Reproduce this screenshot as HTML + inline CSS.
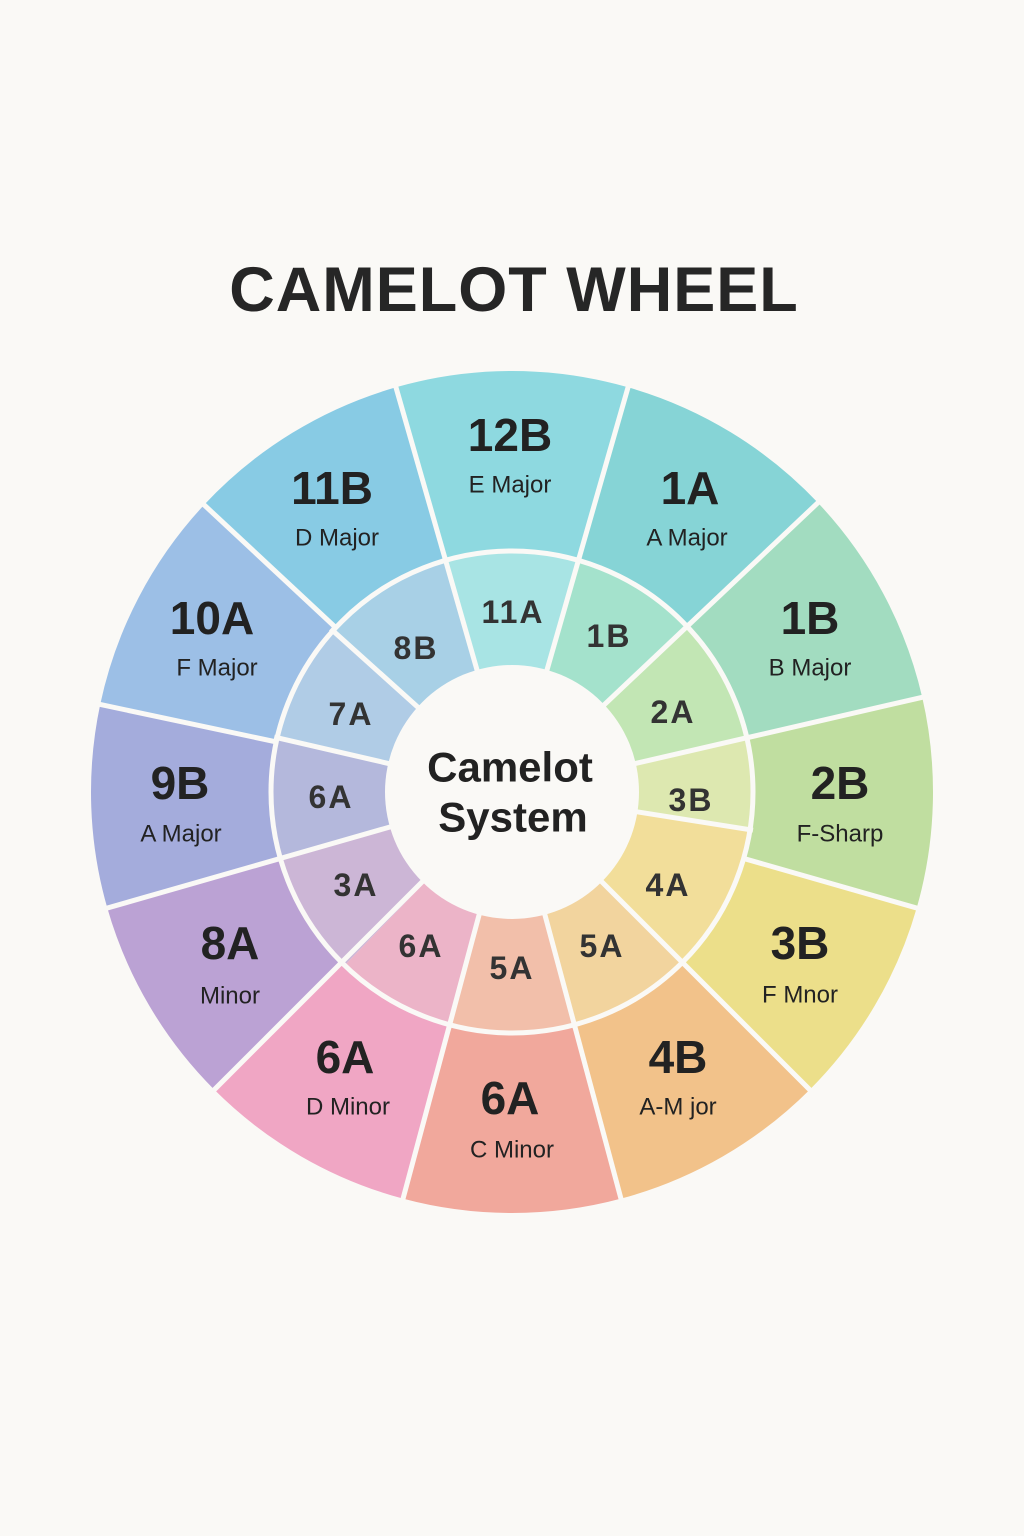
<!DOCTYPE html>
<html><head><meta charset="utf-8"><style>
html,body{margin:0;padding:0;background:#faf9f6;}
svg{display:block;}
text{font-family:"Liberation Sans",sans-serif;fill:#222;text-anchor:middle;dominant-baseline:central;}
.big{font-size:46px;font-weight:bold;}
.sub{font-size:24px;}
.in{font-size:32px;font-weight:bold;fill:#333;letter-spacing:2px;}
</style></head><body>
<svg width="1024" height="1536" viewBox="0 0 1024 1536">
<rect width="1024" height="1536" fill="#faf9f6"/>
<text x="514" y="290" style="font-size:63px;font-weight:bold;fill:#262626;letter-spacing:1px">CAMELOT WHEEL</text>
<g fill="none">
<circle cx="512" cy="792" r="331.5" stroke-width="179" stroke="#8ed9e0" stroke-dasharray="185.1 2000" transform="rotate(-106 512 792)"/>
<circle cx="512" cy="792" r="331.5" stroke-width="179" stroke="#86d4d6" stroke-dasharray="177.1 2000" transform="rotate(-74 512 792)"/>
<circle cx="512" cy="792" r="331.5" stroke-width="179" stroke="#a2dcc0" stroke-dasharray="175.9 2000" transform="rotate(-43.4 512 792)"/>
<circle cx="512" cy="792" r="331.5" stroke-width="179" stroke="#c0dea0" stroke-dasharray="167.8 2000" transform="rotate(-13 512 792)"/>
<circle cx="512" cy="792" r="331.5" stroke-width="179" stroke="#ecdf8a" stroke-dasharray="167.8 2000" transform="rotate(16 512 792)"/>
<circle cx="512" cy="792" r="331.5" stroke-width="179" stroke="#f2c28a" stroke-dasharray="173.6 2000" transform="rotate(45 512 792)"/>
<circle cx="512" cy="792" r="331.5" stroke-width="179" stroke="#f1a89c" stroke-dasharray="173.6 2000" transform="rotate(75 512 792)"/>
<circle cx="512" cy="792" r="331.5" stroke-width="179" stroke="#f0a6c4" stroke-dasharray="173.6 2000" transform="rotate(105 512 792)"/>
<circle cx="512" cy="792" r="331.5" stroke-width="179" stroke="#bba2d4" stroke-dasharray="167.8 2000" transform="rotate(135 512 792)"/>
<circle cx="512" cy="792" r="331.5" stroke-width="179" stroke="#a4acdc" stroke-dasharray="162 2000" transform="rotate(164 512 792)"/>
<circle cx="512" cy="792" r="331.5" stroke-width="179" stroke="#9cbfe6" stroke-dasharray="179.4 2000" transform="rotate(192 512 792)"/>
<circle cx="512" cy="792" r="331.5" stroke-width="179" stroke="#88cbe4" stroke-dasharray="179.4 2000" transform="rotate(223 512 792)"/>
</g>
<g stroke="#faf9f6" stroke-width="5">
<line x1="512" y1="792" x2="512" y2="362" transform="rotate(16 512 792)"/>
<line x1="512" y1="792" x2="512" y2="362" transform="rotate(46.6 512 792)"/>
<line x1="512" y1="792" x2="512" y2="362" transform="rotate(77 512 792)"/>
<line x1="512" y1="792" x2="512" y2="362" transform="rotate(106 512 792)"/>
<line x1="512" y1="792" x2="512" y2="362" transform="rotate(135 512 792)"/>
<line x1="512" y1="792" x2="512" y2="362" transform="rotate(165 512 792)"/>
<line x1="512" y1="792" x2="512" y2="362" transform="rotate(195 512 792)"/>
<line x1="512" y1="792" x2="512" y2="362" transform="rotate(225 512 792)"/>
<line x1="512" y1="792" x2="512" y2="362" transform="rotate(254 512 792)"/>
<line x1="512" y1="792" x2="512" y2="362" transform="rotate(282 512 792)"/>
<line x1="512" y1="792" x2="512" y2="362" transform="rotate(313 512 792)"/>
<line x1="512" y1="792" x2="512" y2="362" transform="rotate(344 512 792)"/>
</g>
<g fill="none">
<circle cx="512" cy="792" r="183" stroke-width="114" stroke="#a8e4e4" stroke-dasharray="102.2 1200" transform="rotate(-106 512 792)"/>
<circle cx="512" cy="792" r="183" stroke-width="114" stroke="#a4e2cc" stroke-dasharray="99 1200" transform="rotate(-74 512 792)"/>
<circle cx="512" cy="792" r="183" stroke-width="114" stroke="#c2e6b4" stroke-dasharray="95.8 1200" transform="rotate(-43 512 792)"/>
<circle cx="512" cy="792" r="183" stroke-width="114" stroke="#dde8b0" stroke-dasharray="70.3 1200" transform="rotate(-13 512 792)"/>
<circle cx="512" cy="792" r="183" stroke-width="114" stroke="#f2de9a" stroke-dasharray="115 1200" transform="rotate(9 512 792)"/>
<circle cx="512" cy="792" r="183" stroke-width="114" stroke="#f2d49e" stroke-dasharray="95.8 1200" transform="rotate(45 512 792)"/>
<circle cx="512" cy="792" r="183" stroke-width="114" stroke="#f2bfaa" stroke-dasharray="95.8 1200" transform="rotate(75 512 792)"/>
<circle cx="512" cy="792" r="183" stroke-width="114" stroke="#ecb4c8" stroke-dasharray="92.6 1200" transform="rotate(105 512 792)"/>
<circle cx="512" cy="792" r="183" stroke-width="114" stroke="#ccb6d6" stroke-dasharray="95.8 1200" transform="rotate(134 512 792)"/>
<circle cx="512" cy="792" r="183" stroke-width="114" stroke="#b4b8dc" stroke-dasharray="92.6 1200" transform="rotate(164 512 792)"/>
<circle cx="512" cy="792" r="183" stroke-width="114" stroke="#b0cce6" stroke-dasharray="92.6 1200" transform="rotate(193 512 792)"/>
<circle cx="512" cy="792" r="183" stroke-width="114" stroke="#a8d0e6" stroke-dasharray="102.2 1200" transform="rotate(222 512 792)"/>
</g>
<g stroke="#faf9f6" stroke-width="5">
<line x1="512" y1="792" x2="512" y2="548" transform="rotate(16 512 792)"/>
<line x1="512" y1="792" x2="512" y2="548" transform="rotate(46.6 512 792)"/>
<line x1="512" y1="792" x2="512" y2="548" transform="rotate(77 512 792)"/>
<line x1="512" y1="792" x2="512" y2="548" transform="rotate(99 512 792)"/>
<line x1="512" y1="792" x2="512" y2="548" transform="rotate(135 512 792)"/>
<line x1="512" y1="792" x2="512" y2="548" transform="rotate(165 512 792)"/>
<line x1="512" y1="792" x2="512" y2="548" transform="rotate(195 512 792)"/>
<line x1="512" y1="792" x2="512" y2="548" transform="rotate(225 512 792)"/>
<line x1="512" y1="792" x2="512" y2="548" transform="rotate(254 512 792)"/>
<line x1="512" y1="792" x2="512" y2="548" transform="rotate(283 512 792)"/>
<line x1="512" y1="792" x2="512" y2="548" transform="rotate(312 512 792)"/>
<line x1="512" y1="792" x2="512" y2="548" transform="rotate(344 512 792)"/>
</g>
<circle cx="512" cy="792" r="241" fill="none" stroke="#faf9f6" stroke-width="5"/>
<circle cx="512" cy="792" r="127" fill="#faf9f6"/>
<text x="510" y="767" style="font-size:42px;font-weight:bold">Camelot</text>
<text x="513" y="817" style="font-size:42px;font-weight:bold">System</text>
<text class="big" x="510" y="435">12B</text><text class="sub" x="510" y="485">E Major</text>
<text class="big" x="690" y="488">1A</text><text class="sub" x="687" y="538">A Major</text>
<text class="big" x="810" y="618">1B</text><text class="sub" x="810" y="668">B Major</text>
<text class="big" x="840" y="783">2B</text><text class="sub" x="840" y="834">F-Sharp</text>
<text class="big" x="800" y="943">3B</text><text class="sub" x="800" y="995">F Mnor</text>
<text class="big" x="678" y="1057">4B</text><text class="sub" x="678" y="1107">A-M jor</text>
<text class="big" x="510" y="1098">6A</text><text class="sub" x="512" y="1150">C Minor</text>
<text class="big" x="345" y="1057">6A</text><text class="sub" x="348" y="1107">D Minor</text>
<text class="big" x="230" y="943">8A</text><text class="sub" x="230" y="996">Minor</text>
<text class="big" x="180" y="783">9B</text><text class="sub" x="181" y="834">A Major</text>
<text class="big" x="212" y="618">10A</text><text class="sub" x="217" y="668">F Major</text>
<text class="big" x="332" y="488">11B</text><text class="sub" x="337" y="538">D Major</text>
<text class="in" x="513" y="612">11A</text>
<text class="in" x="609" y="636">1B</text>
<text class="in" x="673" y="712">2A</text>
<text class="in" x="691" y="800">3B</text>
<text class="in" x="668" y="885">4A</text>
<text class="in" x="602" y="946">5A</text>
<text class="in" x="512" y="968">5A</text>
<text class="in" x="421" y="946">6A</text>
<text class="in" x="356" y="885">3A</text>
<text class="in" x="331" y="797">6A</text>
<text class="in" x="351" y="714">7A</text>
<text class="in" x="416" y="648">8B</text>
</svg>
</body></html>
